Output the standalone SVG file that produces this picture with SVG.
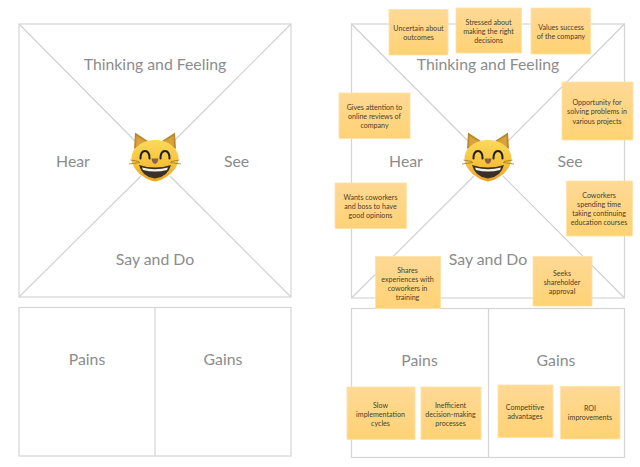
<svg xmlns="http://www.w3.org/2000/svg" width="640" height="467" viewBox="0 0 640 467">
<style>
text{font-family:"Lato","Open Sans","Liberation Sans",sans-serif;text-anchor:middle}
.frame{fill:none;stroke:#d4d4d4;stroke-width:1.2}
.diag{stroke:#cfcfcf;stroke-width:1.1;fill:none}
.label{font-size:15.800px;fill:#8c8c8c}
.sticky{fill:url(#note);stroke:#ffe3a6;stroke-width:.8}
.note{font-size:7.100px;fill:#4a3f28}
</style>
<defs>
<linearGradient id="note" x1="0" y1="0" x2="0" y2="1"><stop offset="0" stop-color="#fed995"/><stop offset="1" stop-color="#ffd274"/></linearGradient>
<linearGradient id="catface" x1="0" y1="0" x2="0" y2="1"><stop offset="0" stop-color="#fbd95c"/><stop offset=".6" stop-color="#f6c138"/><stop offset="1" stop-color="#e8a02a"/></linearGradient>
<g id="cat">
<path d="M-21-10-20-26.500-7-18ZM21-10 20-26.500 7-18Z" fill="#b98a2c"/>
<path d="M-19-12-18.500-23-9-17.500ZM19-12 18.500-23 9-17.500Z" fill="#d9a23a"/>
<path d="M0-19C14-19 23.500-10 23.500-1 23.500 11 10 21 0 22.500-10 21-23.500 11-23.500-1-23.500-10-14-19 0-19Z" fill="url(#catface)"/>
<path d="M-14.500-.5Q-14.500-8-10-8-5.500-8-5.500-.5M14.500-.5Q14.500-8 10-8 5.500-8 5.500-.5" fill="none" stroke="#1f1b16" stroke-width="2" stroke-linecap="round"/>
<path d="M-3.500-.5H3.500Q3 4 0 5-3 4-3.500-.5Z" fill="#8a6248"/>
<path d="M-16 6Q0 11 16 6Q13 18 0 19.500-13 18-16 6Z" fill="#3a3028"/>
<path d="M-13 8.500Q0 12 13 8.500L12 11Q0 14-12 11Z" fill="#f2f0ea"/>
<path d="M-26 5-15 3.500M-24.500 1-16 2.500M26 5 15 3.500M24.500 1 16 2.500" stroke="#8a6a2a" stroke-width=".7" fill="none"/>
</g>
</defs>
<rect width="640" height="467" fill="#fff"/>
<g id="connectors">
<path class="diag" d="M19 24 135 141M291 24 174 141M19 297 141 176M291 297 170 176"/>
<path class="diag" d="M351.500 24 468 141M624.500 24 508 141M351.500 298 474 176M624.500 298 503 176"/>
<path class="frame" d="M155 307.500V456M488.500 308V457.500"/>
</g>
<g id="empty-map">
<rect class="frame" x="19" y="24" width="272" height="273"/>
<rect class="frame" x="19" y="307.500" width="272" height="148.500"/>
<text class="label" x="155" y="70">Thinking and Feeling</text>
<text class="label" x="73" y="166.500">Hear</text>
<text class="label" x="236.500" y="166.500">See</text>
<text class="label" x="155" y="264.500">Say and Do</text>
<text class="label" x="87" y="365">Pains</text>
<text class="label" x="223" y="365">Gains</text>
</g>
<g id="empty-cat"><use href="#cat" x="155" y="159"/></g>
<g id="filled-map">
<rect class="frame" x="351.500" y="24" width="273" height="274"/>
<rect class="frame" x="351.500" y="308.500" width="273" height="149"/>
<text class="label" x="488" y="70">Thinking and Feeling</text>
<text class="label" x="406" y="167">Hear</text>
<text class="label" x="570" y="167">See</text>
<text class="label" x="488" y="265">Say and Do</text>
<text class="label" x="419.500" y="366">Pains</text>
<text class="label" x="556" y="366">Gains</text>
</g>
<g id="filled-cat"><use href="#cat" x="488" y="159"/></g>
<g id="n1"><rect class="sticky" x="389" y="9.500" width="59" height="45.500"/><text class="note" x="418.500" y="31">Uncertain about</text><text class="note" x="418.500" y="40">outcomes</text></g>
<g id="n2"><rect class="sticky" x="456" y="8" width="65.500" height="45"/><text class="note" x="488.500" y="24.500">Stressed about</text><text class="note" x="488.500" y="33.500">making the right</text><text class="note" x="488.500" y="42.500">decisions</text></g>
<g id="n3"><rect class="sticky" x="531" y="8" width="59.500" height="46"/><text class="note" x="561" y="30">Values success</text><text class="note" x="561" y="39">of the company</text></g>
<g id="n4"><rect class="sticky" x="339" y="93" width="71" height="45.500"/><text class="note" x="374.500" y="110">Gives attention to</text><text class="note" x="374.500" y="119">online reviews of</text><text class="note" x="374.500" y="128">company</text></g>
<g id="n5"><rect class="sticky" x="335" y="183" width="71.500" height="45.500"/><text class="note" x="370.500" y="200">Wants coworkers</text><text class="note" x="370.500" y="209">and boss to have</text><text class="note" x="370.500" y="218">good opinions</text></g>
<g id="n6"><rect class="sticky" x="562" y="82" width="71" height="58"/><text class="note" x="597" y="105">Opportunity for</text><text class="note" x="597" y="114">solving problems in</text><text class="note" x="597" y="123.500">various projects</text></g>
<g id="n7"><rect class="sticky" x="566.500" y="181" width="66" height="55"/><text class="note" x="599" y="198">Coworkers</text><text class="note" x="599" y="207">spending time</text><text class="note" x="599" y="216">taking continuing</text><text class="note" x="599" y="225">education courses</text></g>
<g id="n8"><rect class="sticky" x="375.500" y="256.500" width="65" height="52"/><text class="note" x="407.500" y="272.500">Shares</text><text class="note" x="407.500" y="281.500">experiences with</text><text class="note" x="407.500" y="290.500">coworkers in</text><text class="note" x="407.500" y="299.500">training</text></g>
<g id="n9"><rect class="sticky" x="533" y="256.500" width="59" height="49.500"/><text class="note" x="562" y="275.500">Seeks</text><text class="note" x="562" y="284.500">shareholder</text><text class="note" x="562" y="293.500">approval</text></g>
<g id="n10"><rect class="sticky" x="347" y="387" width="68" height="52.500"/><text class="note" x="380.500" y="407.500">Slow</text><text class="note" x="380.500" y="416.500">implementation</text><text class="note" x="380.500" y="425.500">cycles</text></g>
<g id="n11"><rect class="sticky" x="421" y="387" width="60" height="52.500"/><text class="note" x="450.500" y="407.500">Inefficient</text><text class="note" x="450.500" y="416.500">decision-making</text><text class="note" x="450.500" y="425.500">processes</text></g>
<g id="n12"><rect class="sticky" x="498" y="385" width="55" height="52.500"/><text class="note" x="525" y="409.500">Competitive</text><text class="note" x="525" y="418.500">advantages</text></g>
<g id="n13"><rect class="sticky" x="560.500" y="386.500" width="59.500" height="52.500"/><text class="note" x="590" y="411">ROI</text><text class="note" x="590" y="420">improvements</text></g>
</svg>
